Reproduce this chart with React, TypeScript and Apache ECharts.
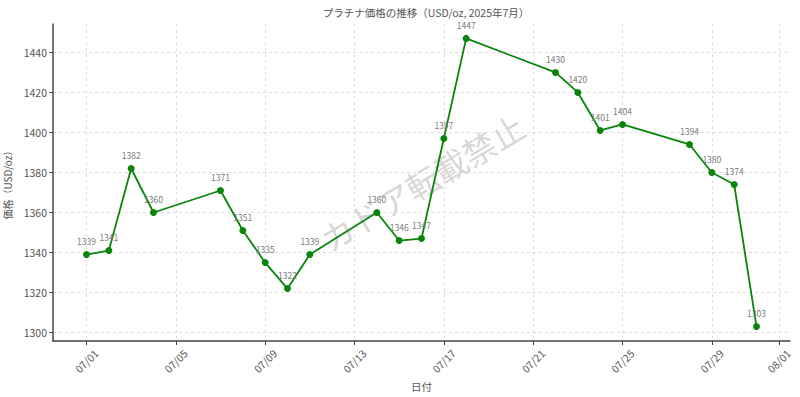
import React, { useEffect, useRef } from "react";
import * as echarts from "echarts";

const dates = [
  "2025-07-01", "2025-07-02", "2025-07-03", "2025-07-04", "2025-07-07",
  "2025-07-08", "2025-07-09", "2025-07-10", "2025-07-11", "2025-07-14",
  "2025-07-15", "2025-07-16", "2025-07-17", "2025-07-18", "2025-07-22",
  "2025-07-23", "2025-07-24", "2025-07-25", "2025-07-28", "2025-07-29",
  "2025-07-30", "2025-07-31",
];
const prices = [
  1339, 1341, 1382, 1360, 1371, 1351, 1335, 1322, 1339, 1360, 1346, 1347,
  1397, 1447, 1430, 1420, 1401, 1404, 1394, 1380, 1374, 1303,
];
const xTickDates = [
  "2025-07-01", "2025-07-05", "2025-07-09", "2025-07-13", "2025-07-17",
  "2025-07-21", "2025-07-25", "2025-07-29", "2025-08-01",
];
const yTicks = [1300, 1320, 1340, 1360, 1380, 1400, 1420, 1440];

const TITLE = "プラチナ価格の推移（USD/oz, 2025年7月）";
const X_NAME = "日付";
const Y_NAME = "価格（USD/oz）";
const WATERMARK = "カドア転載禁止";

const FONT = "'Noto Sans CJK JP', 'Noto Sans', sans-serif";
const DAY = 86400000;
const BASE = Date.UTC(2025, 6, 1);

// day number: 2025-07-01 -> 0
function toDay(s: string): number {
  const [y, m, d] = s.split("-").map(Number);
  return Math.round((Date.UTC(y, m - 1, d) - BASE) / DAY);
}

function fmt(v: number): string {
  const d = new Date(BASE + Math.round(v) * DAY);
  const mm = String(d.getUTCMonth() + 1).padStart(2, "0");
  const dd = String(d.getUTCDate()).padStart(2, "0");
  return `${mm}/${dd}`;
}

export default function App() {
  const ref = useRef<HTMLDivElement>(null);

  useEffect(() => {
    document.body.style.margin = "0";
    if (!ref.current) return;
    const chart = echarts.init(ref.current, undefined, { renderer: "svg" });
    const seriesData = dates.map((d, i) => [toDay(d), prices[i]]);
    const xTicks = xTickDates.map(toDay);
    const dataMin = Math.min(...prices);
    const dataMax = Math.max(...prices);
    const yPad = (dataMax - dataMin) * 0.05;
    const tFirst = toDay(dates[0]);
    const tLast = toDay(dates[dates.length - 1]);
    const xPad = (tLast - tFirst) * 0.05;
    const axisColor = "#444";
    const labelColor = "#555";

    chart.setOption({
      animation: false,
      backgroundColor: "#ffffff",
      textStyle: { fontFamily: FONT },
      title: {
        text: TITLE,
        left: 421,
        top: 2,
        textAlign: "center",
        textStyle: {
          fontFamily: FONT,
          fontSize: 10.5,
          fontWeight: "normal",
          color: labelColor,
        },
      },
      grid: {
        left: 53,
        right: 10,
        top: 24,
        bottom: 56,
        containLabel: false,
        outerBoundsMode: "none",
      },
      xAxis: {
        type: "value",
        min: tFirst - xPad,
        max: tLast + xPad,
        name: X_NAME,
        nameLocation: "middle",
        nameGap: 36,
        nameTextStyle: { fontFamily: FONT, fontSize: 10.5, color: labelColor },
        axisLine: {
          show: true,
          onZero: false,
          lineStyle: { color: axisColor, width: 1.5 },
        },
        axisTick: {
          show: true,
          length: 4,
          lineStyle: { color: axisColor, width: 1 },
          customValues: xTicks,
        },
        axisLabel: {
          customValues: xTicks,
          formatter: (v: number) => fmt(v),
          rotate: 45,
          align: "center",
          verticalAlign: "middle",
          margin: 20,
          fontFamily: FONT,
          fontSize: 10.5,
          color: labelColor,
          hideOverlap: false,
        },
        splitLine: {
          show: true,
          lineStyle: { color: "#d6d6d6", type: [3, 3], width: 0.8 },
        },
      },
      yAxis: {
        type: "value",
        min: dataMin - yPad,
        max: dataMax + yPad,
        name: Y_NAME,
        nameLocation: "middle",
        nameGap: 34,
        nameTextStyle: { fontFamily: FONT, fontSize: 10, color: labelColor },
        axisLine: {
          show: true,
          onZero: false,
          lineStyle: { color: axisColor, width: 1.5 },
        },
        axisTick: {
          show: true,
          length: 4,
          lineStyle: { color: axisColor, width: 1 },
          customValues: yTicks,
        },
        axisLabel: {
          customValues: yTicks,
          formatter: (v: number) => String(v),
          margin: 6,
          fontFamily: FONT,
          fontSize: 10.5,
          color: labelColor,
        },
        splitLine: {
          show: true,
          lineStyle: { color: "#d6d6d6", type: [3, 3], width: 0.8 },
        },
      },
      graphic: [
        {
          type: "text",
          x: 422,
          y: 182,
          rotation: (31 * Math.PI) / 180,
          z: 0,
          silent: true,
          style: {
            text: WATERMARK,
            fontFamily: FONT,
            fontSize: 33,
            fill: "rgba(140,140,140,0.35)",
            textAlign: "center",
            textVerticalAlign: "middle",
          },
        },
      ],
      series: [
        {
          type: "line",
          data: seriesData,
          symbol: "circle",
          symbolSize: 7,
          showAllSymbol: true,
          lineStyle: { color: "#0a850a", width: 1.8 },
          itemStyle: { color: "#0a850a" },
          z: 3,
          label: {
            show: true,
            position: "top",
            distance: 6,
            fontFamily: FONT,
            fontSize: 8.5,
            color: "#7a7a7a",
            formatter: (p: any) => String(p.value[1]),
          },
        },
      ],
    });

    return () => {
      chart.dispose();
    };
  }, []);

  return <div ref={ref} style={{ width: 800, height: 397 }} />;
}
